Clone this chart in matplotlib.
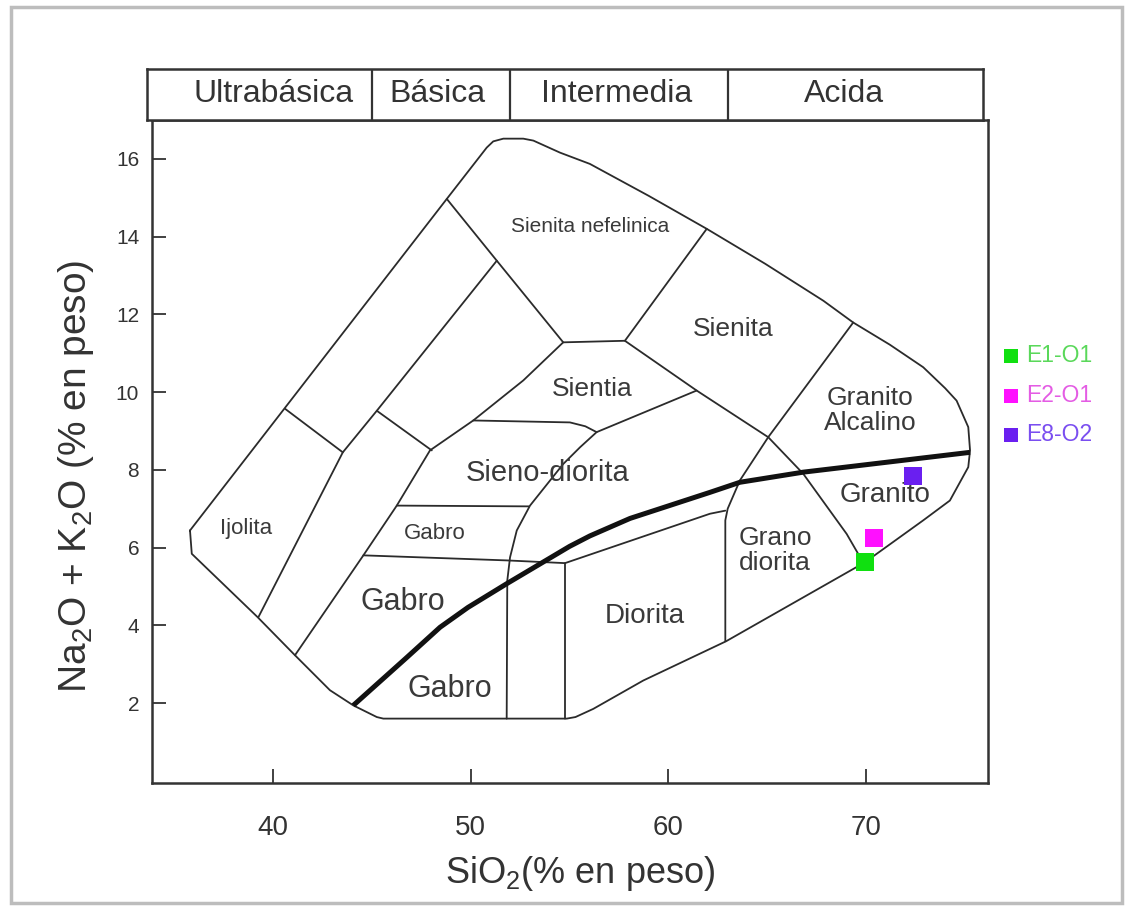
import matplotlib
matplotlib.use('Agg')
import matplotlib.pyplot as plt
from matplotlib.patches import Rectangle

plt.rcParams['font.family'] = ['Liberation Sans', 'DejaVu Sans']
plt.rcParams['mathtext.default'] = 'regular'

# contorno del diagrama TAS (SiO2, Na2O+K2O)
borde = [(35.80, 6.44), (48.79, 14.97), (50.81, 16.29), (51.14, 16.45), (51.65, 16.52),
         (52.66, 16.52), (53.17, 16.47), (54.52, 16.16), (56.03, 15.87), (59.00, 15.05),
         (61.94, 14.20), (64.90, 13.30), (67.84, 12.35), (69.35, 11.79), (71.20, 11.22),
         (72.89, 10.64), (74.00, 10.10), (74.58, 9.78), (75.17, 9.10), (75.26, 8.50),
         (75.17, 8.07), (74.24, 7.21), (72.89, 6.70), (70.54, 5.84), (69.94, 5.62),
         (62.92, 3.59), (58.73, 2.58), (56.20, 1.85), (55.30, 1.64), (54.86, 1.60),
         (45.58, 1.60), (45.25, 1.64), (44.06, 1.94), (42.88, 2.33), (41.11, 3.23),
         (39.22, 4.21), (35.89, 5.84), (35.80, 6.44)]

# divisiones internas entre campos
nefelinica = [(48.79, 14.97), (51.32, 13.38), (54.68, 11.28), (57.80, 11.32), (61.94, 14.20)]
banda_1 = [(51.32, 13.38), (45.25, 9.52), (43.53, 8.45), (39.26, 4.21)]
union_1 = [(40.61, 9.57), (43.53, 8.45)]
union_2 = [(45.25, 9.52), (48.03, 8.50)]
banda_2 = [(54.68, 11.28), (52.66, 10.30), (50.13, 9.27), (47.94, 8.50), (46.26, 7.08),
           (44.57, 5.80), (41.11, 3.23)]
sieno_sup = [(50.13, 9.27), (55.02, 9.22), (55.80, 9.12), (56.37, 8.97), (61.43, 10.04)]
sieno_der = [(56.37, 8.97), (55.53, 8.58), (54.68, 8.15), (53.00, 7.08), (52.33, 6.44),
             (51.99, 5.75), (51.85, 5.15), (51.82, 1.60)]
gabro_sup = [(46.26, 7.08), (52.95, 7.06)]
gabro_inf = [(44.57, 5.80), (51.82, 5.67), (54.77, 5.60)]
diorita = [(54.77, 1.60), (54.77, 5.60), (62.10, 6.87), (62.88, 6.95)]
granodiorita = [(69.35, 11.79), (65.05, 8.84), (63.62, 7.73), (63.00, 7.00), (62.88, 6.70),
                (62.88, 3.59)]
granito = [(57.80, 11.32), (61.43, 10.04), (65.05, 8.84), (66.82, 7.90), (69.02, 6.35),
           (69.60, 5.84), (69.94, 5.62)]

# curva alcalino / subalcalino
curva = [(44.06, 1.94), (46.76, 3.17), (48.45, 3.95), (49.86, 4.46), (51.82, 5.07),
         (53.51, 5.58), (55.00, 6.03), (56.03, 6.30), (58.06, 6.75), (62.10, 7.42),
         (63.62, 7.68), (66.82, 7.94), (75.26, 8.45)]

# nombres de los campos
campos = ['Sienita nefelinica', 'Sienita', 'Sientia', 'Granito\nAlcalino', 'Sieno-diorita',
          'Gabro', 'Ijolita', 'Gabro', 'Gabro', 'Diorita', 'Grano\ndiorita', 'Granito']
campos_x = [56.03, 63.27, 56.13, 70.20, 53.91, 48.19, 38.63, 46.58, 48.95, 58.82, 65.39, 70.96]
campos_y = [14.25, 11.63, 10.09, 9.52, 7.93, 6.36, 6.49, 4.61, 2.35, 4.25, 5.92, 7.36]
campos_fs = [15, 19, 19, 19, 21, 16, 16, 22, 22, 20, 19, 20]

# muestras
muestras = ['E1-O1', 'E2-O1', 'E8-O2']
sio2 = [69.94, 70.41, 72.36]
alcalis = [5.62, 6.25, 7.83]
colores = ['#10e010', '#ff10ff', '#6a1ff0']
colores_txt = ['#5ad85a', '#e45ce4', '#7a4ef0']

# encabezado de tipos de roca
grupos = ['Ultrabásica', 'Básica', 'Intermedia', 'Acida']
grupos_x = [40.0, 48.3, 57.4, 68.9]
limites = [45, 52, 63]

fig = plt.figure(figsize=(11.25, 9.07), dpi=100)
ax = fig.add_axes([0.1348, 0.1370, 0.7431, 0.7307])
hdr = fig.add_axes([0.1307, 0.8677, 0.7431, 0.0559])

x0, x1 = 33.86, 76.15
ax.set_xlim(x0, x1)
ax.set_ylim(-0.05, 17)

lin = dict(color='#2b2b2b', lw=1.3, solid_joinstyle='round', solid_capstyle='round')
for seg in [borde, nefelinica, banda_1, union_1, union_2, banda_2, sieno_sup, sieno_der,
            gabro_sup, gabro_inf, diorita, granodiorita, granito]:
    xs, ys = zip(*seg)
    ax.plot(xs, ys, **lin)
xs, ys = zip(*curva)
ax.plot(xs, ys, color='#111111', lw=3.6, solid_capstyle='butt', solid_joinstyle='round',
        zorder=3)

for t, x, y, fs in zip(campos, campos_x, campos_y, campos_fs):
    ax.text(x, y, t, ha='center', va='center', fontsize=fs, color='#3a3a3a',
            linespacing=1.05, zorder=4)

puntos = []
for nom, x, y, c in zip(muestras, sio2, alcalis, colores):
    puntos.append(ax.scatter([x], [y], marker='s', s=150, color=c, label=nom, zorder=6,
                             linewidths=0))

ax.set_xticks([40, 50, 60, 70])
ax.set_yticks(range(2, 17, 2))
ax.tick_params(direction='in', length=10, width=1.3, color='#333333')
ax.tick_params(axis='x', labelsize=20, pad=23, labelcolor='#333333')
ax.tick_params(axis='y', labelsize=15, pad=9, labelcolor='#333333')
for s in ax.spines.values():
    s.set_linewidth(1.8)
    s.set_color('#333333')

ax.set_xlabel('SiO$_{2}$(% en peso)', fontsize=26, color='#333333')
ax.xaxis.set_label_coords(0.512, -0.108)
ax.set_ylabel('Na$_{2}$O + K$_{2}$O (% en peso)', fontsize=28, color='#333333')
ax.yaxis.set_label_coords(-0.066, 0.463)

# encabezado
hdr.set_xlim(x0 - 0.24, x1 - 0.24)
hdr.set_ylim(0, 1)
hdr.set_xticks([])
hdr.set_yticks([])
for s in hdr.spines.values():
    s.set_linewidth(1.8)
    s.set_color('#333333')
for b in limites:
    hdr.axvline(b, color='#333333', lw=1.6)
for g, gx in zip(grupos, grupos_x):
    hdr.text(gx, 0.52, g, ha='center', va='center', fontsize=23, color='#333333')

fig.legend(handles=puntos, labels=muestras, loc='upper left', bbox_to_anchor=(0.870, 0.643),
           frameon=False, fontsize=16.5, labelcolor=colores_txt, handletextpad=0.15,
           labelspacing=0.72, markerscale=0.8, handlelength=1.0)

fig.add_artist(Rectangle((11 / 1125, 4 / 907), 1111 / 1125, 896 / 907,
                         transform=fig.transFigure, fill=False, ec='#bdbdbd', lw=2.5))

fig.savefig('out.png', dpi=100)
